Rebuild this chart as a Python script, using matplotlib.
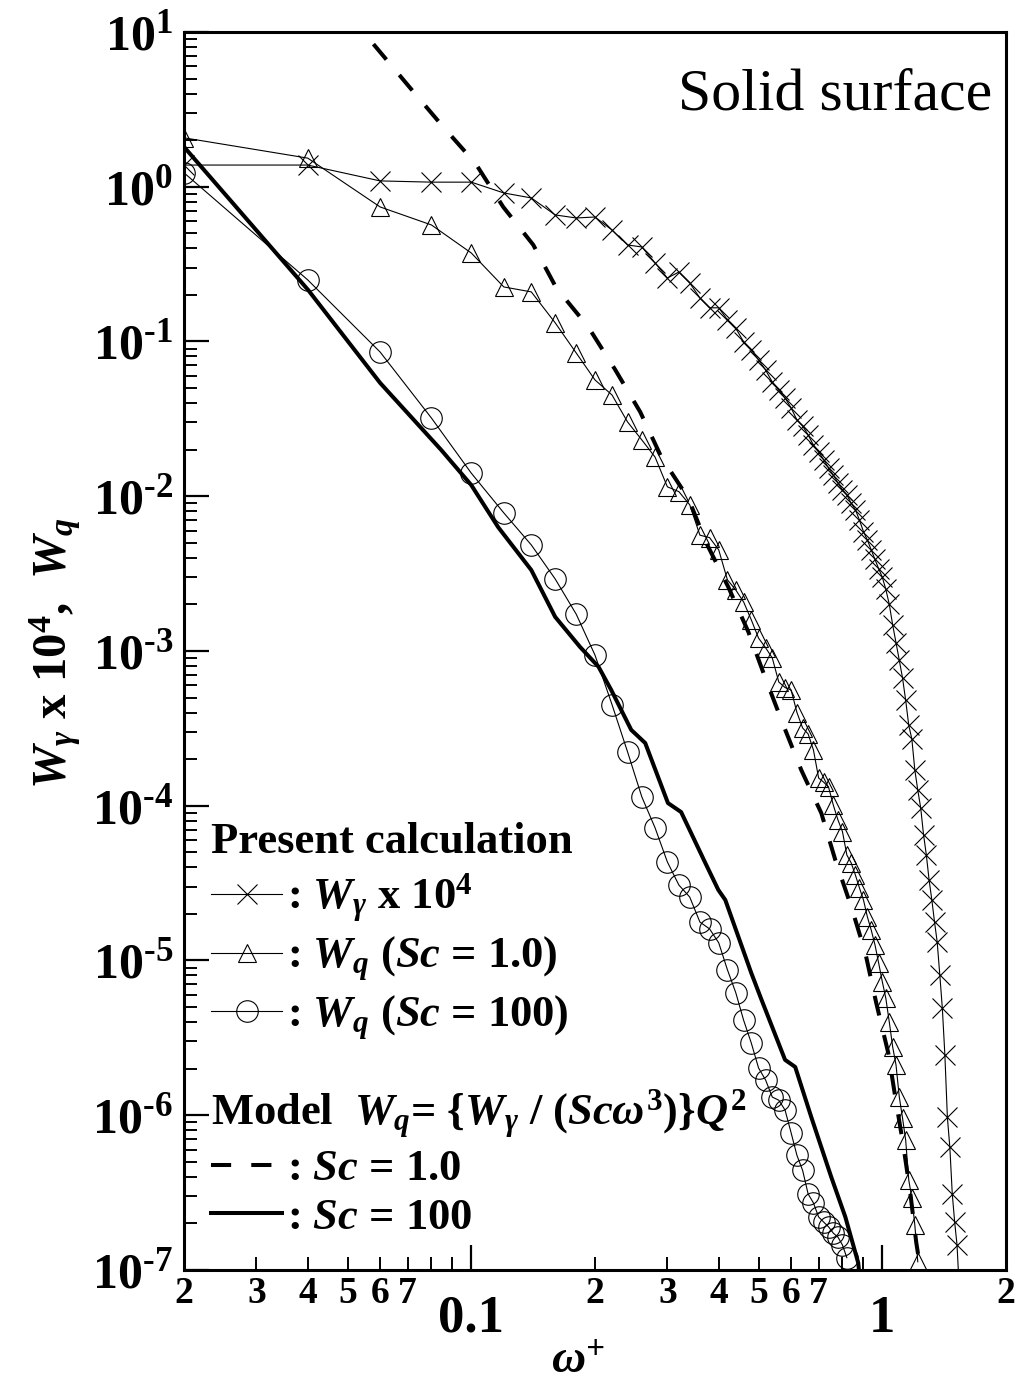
import matplotlib
matplotlib.use('Agg')
import numpy as np
import matplotlib.pyplot as plt
from matplotlib.ticker import FixedLocator, FuncFormatter, LogLocator, NullFormatter

# fonts: bold Times-like everywhere, math in bold italic
plt.rcParams['font.family'] = 'Liberation Serif'
plt.rcParams['font.weight'] = 'bold'
plt.rcParams['mathtext.fontset'] = 'custom'
plt.rcParams['mathtext.rm'] = 'Liberation Serif:bold'
plt.rcParams['mathtext.it'] = 'Liberation Serif:italic:bold'
plt.rcParams['mathtext.bf'] = 'Liberation Serif:bold'
plt.rcParams['mathtext.sf'] = 'Liberation Serif:italic'

# W_gamma x 10^4 (crosses)
omega_g = [0.02, 0.04, 0.06, 0.08, 0.10, 0.12, 0.14, 0.16, 0.18, 0.20,
           0.22, 0.24, 0.26, 0.28, 0.30, 0.32, 0.34, 0.36, 0.38, 0.40,
           0.42, 0.44, 0.46, 0.48, 0.50, 0.52, 0.54, 0.56, 0.58, 0.60,
           0.62, 0.64, 0.66, 0.68, 0.70, 0.72, 0.74, 0.76, 0.78, 0.80,
           0.82, 0.84, 0.86, 0.88, 0.90, 0.92, 0.94, 0.96, 0.98, 1.00,
           1.02, 1.04, 1.06, 1.08, 1.10, 1.12, 1.14, 1.16, 1.18, 1.20,
           1.22, 1.24, 1.26, 1.28, 1.30, 1.32, 1.34, 1.36, 1.38, 1.40,
           1.42, 1.44, 1.46, 1.48, 1.50, 1.52, 1.54]
w_gamma = [1.38, 1.38, 1.09, 1.07, 1.07, 0.911, 0.846, 0.657, 0.628, 0.637,
           0.525, 0.420, 0.408, 0.322, 0.257, 0.281, 0.239, 0.191, 0.165, 0.165,
           0.138, 0.122, 0.0993, 0.0881, 0.0760, 0.0654, 0.0547, 0.0486, 0.0431, 0.0372,
           0.0311, 0.0284, 0.0249, 0.0214, 0.0193, 0.0172, 0.0152, 0.0137, 0.0122, 0.0110,
           0.0102, 0.0090, 0.0082, 0.0070, 0.0059, 0.0052, 0.0045, 0.0039, 0.0034, 0.0030,
           0.0025, 0.0020, 1.47e-3, 1.13e-3, 8.7e-4, 6.7e-4, 4.8e-4, 3.3e-4, 2.7e-4, 1.7e-4,
           1.26e-4, 9.7e-5, 6.5e-5, 4.8e-5, 3.3e-5, 2.46e-5, 1.77e-5, 1.32e-5, 8.1e-6, 4.9e-6,
           2.45e-6, 9.7e-7, 6.2e-7, 3.1e-7, 2.04e-7, 1.45e-7, 7.4e-8]

# W_q, Sc = 1.0 (triangles)
omega_q1 = [0.02, 0.04, 0.06, 0.08, 0.10, 0.12, 0.14, 0.16, 0.18, 0.20,
            0.22, 0.24, 0.26, 0.28, 0.30, 0.32, 0.34, 0.36, 0.38, 0.40,
            0.42, 0.44, 0.46, 0.48, 0.50, 0.52, 0.54, 0.56, 0.58, 0.60,
            0.62, 0.64, 0.66, 0.68, 0.70, 0.72, 0.74, 0.76, 0.78, 0.80,
            0.82, 0.84, 0.86, 0.88, 0.90, 0.92, 0.94, 0.96, 0.98, 1.00,
            1.02, 1.04, 1.06, 1.08, 1.10, 1.12, 1.14, 1.16, 1.18, 1.20, 1.22]
wq_sc1 = [2.07, 1.53, 0.74, 0.566, 0.373, 0.225, 0.209, 0.132, 0.0843, 0.0564,
          0.0451, 0.0302, 0.0231, 0.0179, 0.0115, 0.0107, 0.0088, 0.0056, 0.0054, 0.0045,
          2.88e-3, 2.48e-3, 2.07e-3, 1.59e-3, 1.21e-3, 1.05e-3, 9.0e-4, 6.3e-4, 5.8e-4, 5.6e-4,
          4.0e-4, 3.18e-4, 2.91e-4, 2.29e-4, 1.51e-4, 1.42e-4, 1.32e-4, 1.01e-4, 8.1e-5, 6.8e-5,
          4.8e-5, 4.27e-5, 3.57e-5, 2.94e-5, 2.46e-5, 1.91e-5, 1.57e-5, 1.26e-5, 9.6e-6, 7.3e-6,
          5.7e-6, 4.0e-6, 2.76e-6, 2.11e-6, 1.31e-6, 9.6e-7, 6.9e-7, 3.8e-7, 2.92e-7, 1.95e-7, 1.13e-7]

# W_q, Sc = 100 (circles)
omega_q100 = [0.02, 0.04, 0.06, 0.08, 0.10, 0.12, 0.14, 0.16, 0.18, 0.20,
              0.22, 0.24, 0.26, 0.28, 0.30, 0.32, 0.34, 0.36, 0.38, 0.40,
              0.42, 0.44, 0.46, 0.48, 0.50, 0.52, 0.54, 0.56, 0.58, 0.60,
              0.62, 0.64, 0.66, 0.68, 0.70, 0.72, 0.74, 0.76, 0.78, 0.80, 0.82]
wq_sc100 = [1.23, 0.25, 0.0855, 0.032, 0.0141, 7.8e-3, 4.84e-3, 2.92e-3, 1.73e-3, 9.4e-4,
            4.5e-4, 2.23e-4, 1.14e-4, 7.2e-5, 4.33e-5, 3.07e-5, 2.57e-5, 1.77e-5, 1.60e-5, 1.30e-5,
            8.7e-6, 6.2e-6, 4.1e-6, 2.93e-6, 2.02e-6, 1.69e-6, 1.31e-6, 1.25e-6, 1.08e-6, 7.7e-7,
            5.5e-7, 4.4e-7, 3.1e-7, 2.71e-7, 2.20e-7, 2.04e-7, 1.90e-7, 1.73e-7, 1.63e-7, 1.45e-7, 1.20e-7]

# model, Sc = 1.0 (dashed)
omega_m1 = [0.050, 0.0546, 0.0710, 0.0855, 0.1023, 0.1196, 0.1415, 0.1610, 0.1926, 0.2241,
            0.2577, 0.2900, 0.3373, 0.3731, 0.4220, 0.4721, 0.5192, 0.5742, 0.6352, 0.7105,
            0.7686, 0.8407, 0.9093, 0.9669, 1.0342, 1.0755, 1.1248, 1.1698, 1.2098, 1.2303]
wq_model1 = [13.2, 10.0, 4.35, 2.43, 1.42, 0.74, 0.421, 0.222, 0.124, 0.0655,
             0.035, 0.0179, 9.7e-3, 4.99e-3, 2.59e-3, 1.33e-3, 6.7e-4, 3.33e-4, 1.70e-4, 8.97e-5,
             4.46e-5, 2.22e-5, 1.12e-5, 5.3e-6, 2.52e-6, 1.31e-6, 6.4e-7, 3.15e-7, 1.50e-7, 1.13e-7]

# model, Sc = 100 (solid)
omega_m100 = [0.020, 0.0401, 0.060, 0.0845, 0.100, 0.1163, 0.140, 0.160, 0.184, 0.204,
              0.219, 0.245, 0.265, 0.301, 0.324, 0.371, 0.399, 0.415, 0.480, 0.508,
              0.580, 0.614, 0.672, 0.751, 0.813, 0.874, 0.900]
wq_model100 = [1.81, 0.215, 0.054, 0.0199, 0.0118, 6.3e-3, 3.33e-3, 1.66e-3, 1.06e-3, 7.9e-4,
               5.6e-4, 3.09e-4, 2.54e-4, 1.04e-4, 9.1e-5, 4.27e-5, 2.86e-5, 2.46e-5, 8.3e-6, 5.6e-6,
               2.28e-6, 2.05e-6, 9.7e-7, 4.0e-7, 2.20e-7, 1.11e-7, 5.0e-8]

x_minor = [0.02, 0.03, 0.04, 0.05, 0.06, 0.07, 0.08, 0.09,
           0.2, 0.3, 0.4, 0.5, 0.6, 0.7, 0.8, 0.9, 2.0]
y_major = [1e-7, 1e-6, 1e-5, 1e-4, 1e-3, 1e-2, 1e-1, 1e0, 1e1]

fig = plt.figure(figsize=(10.17, 13.89), dpi=100)
ax = fig.add_axes([0.1809, 0.0857, 0.8083, 0.8913])

l_g, = ax.plot(omega_g, w_gamma, color='k', lw=0.8, marker='x', ms=14, mew=0.8)
l_t, = ax.plot(omega_q1, wq_sc1, color='k', lw=0.8, marker='^', ms=13, mew=0.8, mfc='none')
l_c, = ax.plot(omega_q100, wq_sc100, color='k', lw=0.8, marker='o', ms=15.5, mew=0.8, mfc='none')
l_d, = ax.plot(omega_m1, wq_model1, color='k', lw=2.9, dashes=(5, 5))
l_s, = ax.plot(omega_m100, wq_model100, color='k', lw=2.9)

ax.set_xscale('log')
ax.set_yscale('log')
ax.set_xlim(0.02, 2)
ax.set_ylim(1e-7, 10)

for sp in ax.spines.values():
    sp.set_linewidth(2.2)

# x ticks
ax.xaxis.set_major_locator(FixedLocator([0.1, 1]))
ax.xaxis.set_major_formatter(FuncFormatter(lambda v, p: '0.1' if v < 0.5 else '1'))
ax.xaxis.set_minor_locator(FixedLocator(x_minor))


def minor_lab(v, p):
    d = int(round(v / 10 ** np.floor(np.log10(v) + 1e-9)))
    return str(d) if d <= 7 else ''


ax.xaxis.set_minor_formatter(FuncFormatter(minor_lab))

# y ticks
ax.yaxis.set_major_locator(FixedLocator(y_major))
ax.yaxis.set_major_formatter(FuncFormatter(
    lambda v, p: '10$^{%d}$' % round(np.log10(v)) if v >= 1 else
    '10$^{\\text{-}%d}$' % round(-np.log10(v))))
ax.yaxis.set_minor_locator(LogLocator(base=10, subs=range(2, 10), numticks=20))
ax.yaxis.set_minor_formatter(NullFormatter())

ax.tick_params(which='both', direction='in', top=False, right=False)
ax.tick_params(which='major', length=18, width=1.6)
ax.tick_params(which='minor', length=9.5, width=1.4)
ax.tick_params(axis='x', which='major', labelsize=38, pad=18)
ax.tick_params(axis='x', which='minor', labelsize=27, pad=4)
ax.tick_params(axis='y', which='major', labelsize=36, pad=8)

ax.text(0.983, 0.949, 'Solid surface', transform=ax.transAxes, ha='right', va='center',
        fontsize=43, fontweight='normal')

leg1 = ax.legend([l_g, l_t, l_c],
                 [r': $W_\gamma$ x 10$^4$', r': $W_q$ ($Sc$ = 1.0)', r': $W_q$ ($Sc$ = 100)'],
                 loc='upper left', bbox_to_anchor=(0.033, 0.362), frameon=False, fontsize=32,
                 title='Present calculation', title_fontproperties={'weight': 'bold', 'size': 32},
                 alignment='left', handlelength=1.6, handletextpad=0.1, borderpad=0,
                 borderaxespad=0, labelspacing=0.22)
ax.add_artist(leg1)
ax.legend([l_d, l_s], [r': $Sc$ = 1.0', r': $Sc$ = 100'],
          loc='upper left', bbox_to_anchor=(0.033, 0.147), frameon=False, fontsize=32,
          title=r'Model  $W_q$= {$W_\gamma$ / ($Sc\omega^3$)}$Q^2$',
          title_fontproperties={'weight': 'bold', 'size': 32},
          alignment='left', handlelength=1.6, handletextpad=0.1, borderpad=0,
          borderaxespad=0, labelspacing=0.18)

fig.text(0.054, 0.53, r'$W_\gamma$ x 10$^4$,  $W_q$', rotation=90, fontsize=35,
         ha='center', va='center')
fig.text(578 / 1017, 1 - 1362 / 1389, r'$\mathsf{\omega^{+}}$', fontsize=34,
         ha='center', va='center')

fig.savefig('out.png', dpi=100)
